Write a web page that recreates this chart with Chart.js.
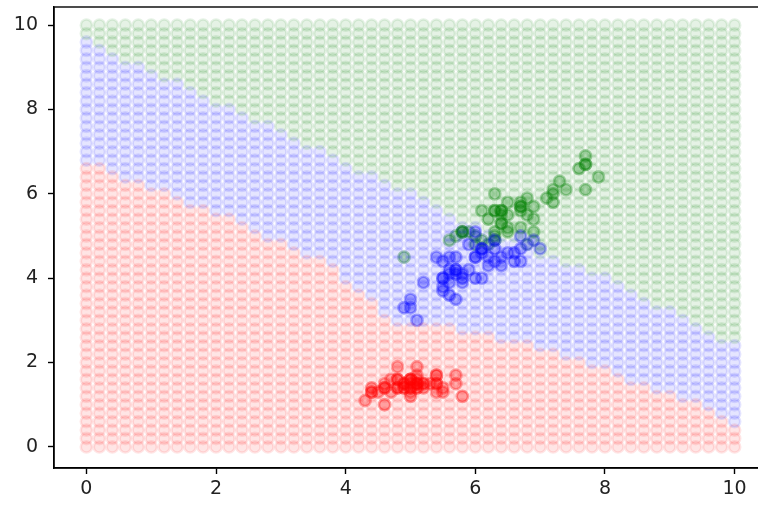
<!DOCTYPE html>
<html>
<head>
<meta charset="utf-8">
<script src="https://cdn.jsdelivr.net/npm/chart.js@4/dist/chart.umd.min.js"></script>
<style>
    html, body { margin: 0; padding: 0; background: #fff; overflow: hidden; }
    #plot { display: block; }
</style>
</head>
<body>
<canvas id="plot" width="772" height="506" style="width:772px;height:506px"></canvas>
<script>
// ===== DATA =====
// mesh steps used for the background grid (same on both axes)
const gridSteps = [0, 0.2, 0.4, 0.6, 0.8, 1, 1.2, 1.4, 1.6, 1.8, 2, 2.2, 2.4, 2.6, 2.8, 3, 3.2, 3.4, 3.6, 3.8,
    4, 4.2, 4.4, 4.6, 4.8, 5, 5.2, 5.4, 5.6, 5.8, 6, 6.2, 6.4, 6.6, 6.8, 7, 7.2, 7.4, 7.6, 7.8,
    8, 8.2, 8.4, 8.6, 8.8, 9, 9.2, 9.4, 9.6, 9.8, 10];

// highest grid row predicted red / blue, one value per grid column
const redTop = [6.6, 6.6, 6.4, 6.2, 6.2, 6.0, 6.0, 5.8, 5.6, 5.6, 5.4, 5.4, 5.2, 5.0, 4.8, 4.8, 4.6, 4.4, 4.4, 4.2,
    3.8, 3.6, 3.4, 3.0, 2.8, 2.8, 2.8, 2.8, 2.8, 2.6, 2.6, 2.6, 2.4, 2.4, 2.4, 2.2, 2.2, 2.0, 2.0, 1.8,
    1.8, 1.6, 1.4, 1.4, 1.2, 1.2, 1.0, 1.0, 0.8, 0.6, 0.4];
const blueTop = [9.6, 9.4, 9.2, 9.0, 9.0, 8.8, 8.6, 8.6, 8.4, 8.2, 8.0, 8.0, 7.8, 7.6, 7.6, 7.4, 7.2, 7.0, 7.0, 6.8,
    6.6, 6.4, 6.4, 6.2, 6.0, 6.0, 5.8, 5.6, 5.4, 5.2, 5.2, 5.0, 4.8, 4.8, 4.6, 4.4, 4.4, 4.2, 4.2, 4.0,
    4.0, 3.8, 3.6, 3.4, 3.2, 3.2, 3.0, 2.8, 2.6, 2.4, 2.4];

const setosaX = [5.1, 4.9, 4.7, 4.6, 5.0, 5.4, 4.6, 5.0, 4.4, 4.9, 5.4, 4.8, 4.8, 4.3, 5.8, 5.7, 5.4, 5.1, 5.7, 5.1,
    5.4, 5.1, 4.6, 5.1, 4.8, 5.0, 5.0, 5.2, 5.2, 4.7, 4.8, 5.4, 5.2, 5.5, 4.9, 5.0, 5.5, 4.9, 4.4, 5.1,
    5.0, 4.5, 4.4, 5.0, 5.1, 4.8, 5.1, 4.6, 5.3, 5.0];
const setosaY = [1.4, 1.4, 1.3, 1.5, 1.4, 1.7, 1.4, 1.5, 1.4, 1.5, 1.5, 1.6, 1.4, 1.1, 1.2, 1.5, 1.3, 1.4, 1.7, 1.5,
    1.7, 1.5, 1.0, 1.7, 1.9, 1.6, 1.6, 1.5, 1.4, 1.6, 1.6, 1.5, 1.5, 1.4, 1.5, 1.2, 1.3, 1.4, 1.3, 1.5,
    1.3, 1.3, 1.3, 1.6, 1.9, 1.4, 1.6, 1.4, 1.5, 1.4];
const versicolorX = [7.0, 6.4, 6.9, 5.5, 6.5, 5.7, 6.3, 4.9, 6.6, 5.2, 5.0, 5.9, 6.0, 6.1, 5.6, 6.7, 5.6, 5.8, 6.2, 5.6,
    5.9, 6.1, 6.3, 6.1, 6.4, 6.6, 6.8, 6.7, 6.0, 5.7, 5.5, 5.5, 5.8, 6.0, 5.4, 6.0, 6.7, 6.3, 5.6, 5.5,
    5.5, 6.1, 5.8, 5.0, 5.6, 5.7, 5.7, 6.2, 5.1, 5.7];
const versicolorY = [4.7, 4.5, 4.9, 4.0, 4.6, 4.5, 4.7, 3.3, 4.6, 3.9, 3.5, 4.2, 4.0, 4.7, 3.6, 4.4, 4.5, 4.1, 4.5, 3.9,
    4.8, 4.0, 4.9, 4.7, 4.3, 4.4, 4.8, 5.0, 4.5, 3.5, 3.8, 3.7, 3.9, 5.1, 4.5, 4.5, 4.7, 4.4, 4.1, 4.0,
    4.4, 4.6, 4.0, 3.3, 4.2, 4.2, 4.2, 4.3, 3.0, 4.1];
const virginicaX = [6.3, 5.8, 7.1, 6.3, 6.5, 7.6, 4.9, 7.3, 6.7, 7.2, 6.5, 6.4, 6.8, 5.7, 5.8, 6.4, 6.5, 7.7, 7.7, 6.0,
    6.9, 5.6, 7.7, 6.3, 6.7, 7.2, 6.2, 6.1, 6.4, 7.2, 7.4, 7.9, 6.4, 6.3, 6.1, 7.7, 6.3, 6.4, 6.0, 6.9,
    6.7, 6.9, 5.8, 6.8, 6.7, 6.7, 6.3, 6.5, 6.2, 5.9];
const virginicaY = [6.0, 5.1, 5.9, 5.6, 5.8, 6.6, 4.5, 6.3, 5.8, 6.1, 5.1, 5.3, 5.5, 5.0, 5.1, 5.3, 5.5, 6.7, 6.9, 5.0,
    5.7, 4.9, 6.7, 4.9, 5.7, 6.0, 4.8, 4.9, 5.6, 5.8, 6.1, 6.4, 5.6, 5.1, 5.6, 6.1, 5.6, 5.5, 4.8, 5.4,
    5.6, 5.1, 5.1, 5.9, 5.7, 5.2, 5.0, 5.2, 5.4, 5.1];

const xTicks = [0, 2, 4, 6, 8, 10];
const yTicks = [0, 2, 4, 6, 8, 10];

// ===== COLOURS =====
const regionColors = ['rgba(255,0,0,0.1)', 'rgba(0,0,255,0.1)', 'rgba(0,128,0,0.1)'];
const pointColors = ['rgba(255,0,0,0.3)', 'rgba(0,0,255,0.3)', 'rgba(0,128,0,0.3)'];

// build the background mesh (row by row, like a ravelled meshgrid)
const meshPoints = [];
const meshColors = [];
gridSteps.forEach((y) => {
    gridSteps.forEach((x, i) => {
        let cls = 1;
        if (y <= redTop[i] + 1e-6) cls = 0;
        else if (y > blueTop[i] + 1e-6) cls = 2;
        meshPoints.push({ x, y });
        meshColors.push(regionColors[cls]);
    });
});

function toPoints(xs, ys) {
    return xs.map((x, i) => ({ x, y: ys[i] }));
}

function markerSet(data, color) {
    return {
        data,
        showLine: false,
        pointRadius: 5.6,
        pointHoverRadius: 5.6,
        pointBorderWidth: 2.6,
        pointBackgroundColor: color,
        pointBorderColor: color
    };
}

// matplotlib draws all four spines; the right one falls off the page
const framePlugin = {
    id: 'frame',
    afterDatasetsDraw(chart) {
        const { ctx, chartArea } = chart;
        ctx.save();
        ctx.strokeStyle = '#000';
        ctx.lineWidth = 1.4;
        ctx.strokeRect(chartArea.left, chartArea.top, chartArea.right - chartArea.left, chartArea.bottom - chartArea.top);
        ctx.restore();
    }
};

const tickFont = { family: 'DejaVu Sans', size: 19 };

function noPadding(scale) {
    scale.paddingTop = 0;
    scale.paddingBottom = 0;
    scale.paddingLeft = 0;
    scale.paddingRight = 0;
}

new Chart(document.getElementById('plot'), {
    type: 'scatter',
    data: {
        datasets: [
            markerSet(meshPoints, meshColors),
            markerSet(toPoints(setosaX, setosaY), pointColors[0]),
            markerSet(toPoints(versicolorX, versicolorY), pointColors[1]),
            markerSet(toPoints(virginicaX, virginicaY), pointColors[2])
        ]
    },
    options: {
        responsive: false,
        animation: false,
        devicePixelRatio: 1,
        layout: { autoPadding: false, padding: { top: 7, right: 5, left: 0, bottom: 0 } },
        plugins: {
            legend: { display: false },
            tooltip: { enabled: false }
        },
        scales: {
            x: {
                type: 'linear',
                min: -0.5,
                max: 10.5,
                afterBuildTicks: (scale) => { scale.ticks = xTicks.map(v => ({ value: v })); },
                afterFit: (scale) => { scale.height = 38; noPadding(scale); },
                ticks: { color: '#222', font: tickFont, padding: 4, maxRotation: 0 },
                grid: { drawOnChartArea: false, tickLength: 6, tickColor: '#000', tickWidth: 1.4 },
                border: { display: true, color: '#000', width: 1.4 }
            },
            y: {
                type: 'linear',
                min: -0.5,
                max: 10.43,
                afterBuildTicks: (scale) => { scale.ticks = yTicks.map(v => ({ value: v })); },
                afterFit: (scale) => { scale.width = 54; noPadding(scale); },
                ticks: { color: '#222', font: tickFont, padding: 10 },
                grid: { drawOnChartArea: false, tickLength: 6, tickColor: '#000', tickWidth: 1.4 },
                border: { display: true, color: '#000', width: 1.4 }
            }
        }
    },
    plugins: [framePlugin]
});
</script>
</body>
</html>
